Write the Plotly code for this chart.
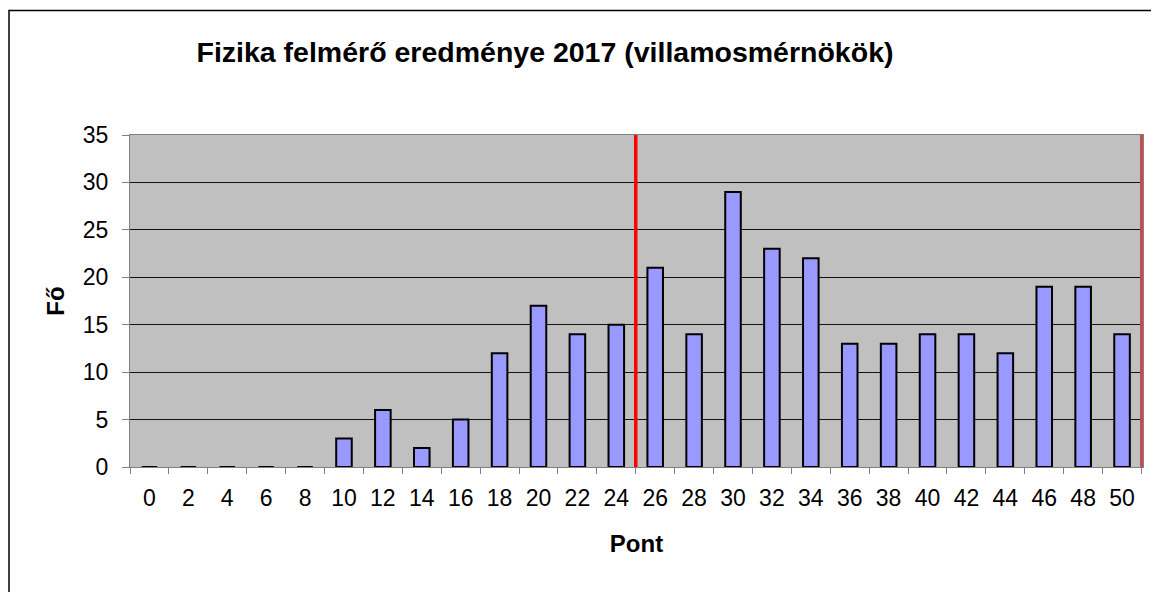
import plotly.graph_objects as go

points = ["0", "2", "4", "6", "8", "10", "12", "14", "16", "18", "20", "22", "24",
          "26", "28", "30", "32", "34", "36", "38", "40", "42", "44", "46", "48", "50"]
counts = [0, 0, 0, 0, 0, 3, 6, 2, 5, 12, 17, 14, 15,
          21, 14, 29, 23, 22, 13, 13, 14, 14, 12, 19, 19, 14]
y_ticks = [0, 5, 10, 15, 20, 25, 30, 35]
threshold_boundary = 12.5   # between "24" and "26"
max_boundary = 25.5         # after "50"

# page has an 8px body margin, so the figure is 8px smaller
W, H = 1151, 584
ml, mr, mt, mb = 122, 16, 127, 125

fig = go.Figure(go.Bar(
    x=points, y=counts,
    marker=dict(color="#9999ff", line=dict(color="black", width=2)),
))

fig.update_layout(
    width=W, height=H,
    margin=dict(l=ml, r=mr, t=mt, b=mb, pad=0),
    paper_bgcolor="white", plot_bgcolor="#c0c0c0",
    bargap=0.6, showlegend=False,
    font=dict(family="Liberation Sans, Arial", color="black", size=23),
    title=dict(text="<b>Fizika felmérő eredménye 2017 (villamosmérnökök)</b>",
               x=537 / W, xref="container", xanchor="center",
               y=1 - 44 / H, yref="container", yanchor="middle",
               font=dict(size=28.5, family="Liberation Sans, Arial", color="black")),
)

fig.update_xaxes(
    type="category", tickson="boundaries", ticks="outside", ticklen=6,
    tickcolor="#808080", showline=True, linecolor="#808080", linewidth=1,
    mirror=True, showgrid=False,
    tickfont=dict(size=23), ticklabelstandoff=10,
    title=dict(text="<b>Pont</b>", font=dict(size=24), standoff=25),
)
fig.update_yaxes(
    range=[0, 35], tickvals=y_ticks, ticks="outside", ticklen=7,
    tickcolor="#808080", showline=True, linecolor="#808080", linewidth=1,
    mirror=True, showgrid=True, gridcolor="#111111", gridwidth=1.2,
    zeroline=False, tickfont=dict(size=23), ticklabelstandoff=9,
    title=dict(text="<b>Fő</b>", font=dict(size=24), standoff=11),
)

fig.add_shape(type="line", xref="x", yref="paper",
              x0=threshold_boundary, x1=threshold_boundary, y0=0, y1=1,
              line=dict(color="red", width=3.5))
fig.add_shape(type="line", xref="x", yref="paper",
              x0=max_boundary, x1=max_boundary, y0=0, y1=1,
              line=dict(color="#c0504d", width=3))

# outer frame
pw, ph = W - ml - mr, H - mt - mb
fig.add_shape(type="rect", xref="paper", yref="paper",
              x0=(1 - ml) / pw, x1=(W + 20 - ml) / pw,
              y0=-(mb + 20) / ph, y1=1 + (mt - 2.5) / ph,
              line=dict(color="black", width=1.5), fillcolor="rgba(0,0,0,0)",
              layer="below")

fig.write_html("out.html")
